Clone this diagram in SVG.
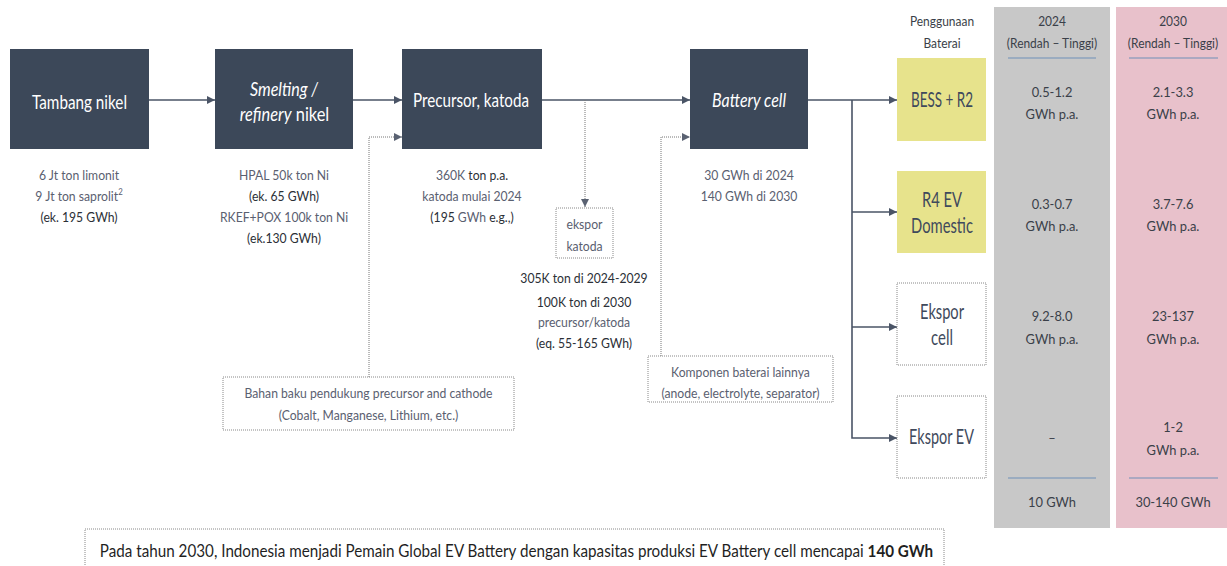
<svg xmlns="http://www.w3.org/2000/svg" width="1227" height="566" viewBox="0 0 1227 566">
<defs>
<marker id="ah" viewBox="0 0 10 10" refX="10" refY="5" markerWidth="8" markerHeight="8" markerUnits="userSpaceOnUse" orient="auto"><path d="M0,0 L10,5 L0,10 z" fill="#4a5466"/></marker>
<marker id="ahd" viewBox="0 0 10 10" refX="10" refY="5" markerWidth="8" markerHeight="8" markerUnits="userSpaceOnUse" orient="auto"><path d="M0,0 L10,5 L0,10 z" fill="#5a6272"/></marker>
</defs>
<style>
text{font-family:Lato,"Noto Sans",sans-serif;text-anchor:middle}
.node{fill:#3c4859}
.nt{fill:#ffffff;font-size:20px}
.it{font-style:italic}
.st{text-anchor:start}
.sub{font-size:14px;fill:#5a6070}
.dk{fill:#2b2f36}
.conn{stroke:#4a5466;stroke-width:1.6;fill:none}
.dot{stroke:#777;stroke-width:1;stroke-dasharray:1 1;fill:none}
.dbox{fill:#fff;stroke:#888;stroke-width:1;stroke-dasharray:1 1}
.yel{fill:#e7e38c}
.ut{font-size:21px;fill:#3f4a5c}
.hd{font-size:13px;fill:#3a3f48}
.val{font-size:14px;fill:#3a3f48}
.bl{stroke:#6f8fb8;stroke-width:1.2}
</style>
<rect x="994" y="7" width="116" height="521" fill="#c8c8c8"/>
<rect x="1116" y="7" width="111" height="521" fill="#e8c1cb"/>
<g id="connectors">
<line class="conn" x1="149" y1="100" x2="215" y2="100" marker-end="url(#ah)"/>
<line class="conn" x1="353" y1="100" x2="402" y2="100" marker-end="url(#ah)"/>
<line class="conn" x1="542" y1="100" x2="690" y2="100" marker-end="url(#ah)"/>
<line class="conn" x1="808" y1="100" x2="897" y2="100" marker-end="url(#ah)"/>
<polyline class="conn" points="852,100 852,438 897,438" marker-end="url(#ah)"/>
<line class="conn" x1="852" y1="212" x2="897" y2="212" marker-end="url(#ah)"/>
<line class="conn" x1="852" y1="327" x2="897" y2="327" marker-end="url(#ah)"/>
<line class="dot" x1="585" y1="100" x2="585" y2="207" marker-end="url(#ahd)"/>
<polyline class="dot" points="369,377 369,137 402,137" marker-end="url(#ahd)"/>
<polyline class="dot" points="661,356 661,137 690,137" marker-end="url(#ahd)"/>
</g>
<g id="tambang">
<rect class="node" x="10" y="49" width="139" height="100"/>
<text class="nt" x="79.5" y="109" textLength="95" lengthAdjust="spacingAndGlyphs">Tambang nikel</text>
<g transform="translate(79,0) scale(0.87,1)">
<text class="sub" x="0" y="180">6 Jt ton limonit</text>
<text class="sub" x="0" y="201">9 Jt ton saprolit<tspan font-size="9" dy="-6">2</tspan></text>
<text class="sub dk" x="0" y="222">(ek. 195 GWh)</text>
</g>
</g>
<g id="smelting">
<rect class="node" x="215" y="49" width="138" height="100"/>
<text class="nt it" x="284" y="96" textLength="68" lengthAdjust="spacingAndGlyphs">Smelting /</text>
<g transform="translate(284.5,0) scale(0.82,1)">
<text class="nt" x="0" y="121" font-size="19"><tspan class="it">refinery</tspan> nikel</text>
</g>
<g transform="translate(284,0) scale(0.87,1)">
<text class="sub" x="0" y="180">HPAL 50k ton Ni</text>
<text class="sub dk" x="0" y="201">(ek. 65 GWh)</text>
<text class="sub" x="0" y="222">RKEF+POX 100k ton Ni</text>
<text class="sub dk" x="0" y="243">(ek.130 GWh)</text>
</g>
</g>
<g id="precursor">
<rect class="node" x="402" y="49" width="140" height="100"/>
<text class="nt" x="471" y="107" textLength="116" lengthAdjust="spacingAndGlyphs">Precursor, katoda</text>
<g transform="translate(472,0) scale(0.87,1)">
<text class="sub" x="0" y="180">360K <tspan class="dk">ton p.a.</tspan></text>
<text class="sub" x="0" y="201">katoda mulai 2024</text>
<text class="sub dk" x="0" y="222">(195 <tspan fill="#5a6070">GWh</tspan> e.g.,)</text>
</g>
</g>
<g id="battery">
<rect class="node" x="690" y="49" width="118" height="100"/>
<text class="nt it" x="749" y="107" textLength="74" lengthAdjust="spacingAndGlyphs">Battery cell</text>
<g transform="translate(749,0) scale(0.87,1)">
<text class="sub" x="0" y="180">30 GWh di 2024</text>
<text class="sub" x="0" y="201">140 GWh di 2030</text>
</g>
</g>
<g id="ekspor-katoda">
<rect class="dbox" x="556" y="208" width="57" height="50"/>
<g transform="translate(584.5,0) scale(0.87,1)">
<text class="sub" x="0" y="229">ekspor</text>
<text class="sub" x="0" y="251">katoda</text>
</g>
<g transform="translate(584,0) scale(0.87,1)">
<text class="sub dk" x="0" y="283">305K ton di 2024-2029</text>
<text class="sub dk" x="0" y="307">100K ton di 2030</text>
<text class="sub" x="0" y="327">precursor/katoda</text>
<text class="sub dk" x="0" y="348">(eq. 55-165 GWh)</text>
</g>
</g>
<g id="bahan-baku">
<rect class="dbox" x="223" y="377" width="291" height="53"/>
<g transform="translate(368.5,0) scale(0.87,1)">
<text class="sub" x="0" y="398">Bahan baku pendukung precursor and cathode</text>
<text class="sub" x="0" y="420">(Cobalt, Manganese, Lithium, etc.)</text>
</g>
</g>
<g id="komponen">
<rect class="dbox" x="648" y="356" width="185" height="46"/>
<g transform="translate(740.5,0) scale(0.87,1)">
<text class="sub" x="0" y="377">Komponen baterai lainnya</text>
<text class="sub" x="0" y="398">(anode, electrolyte, separator)</text>
</g>
</g>
<g id="bess">
<rect class="yel" x="897" y="58" width="89" height="83"/>
<text class="ut" x="942" y="107" textLength="62" lengthAdjust="spacingAndGlyphs">BESS + R2</text>
</g>
<g id="r4ev">
<rect class="yel" x="897" y="171" width="89" height="82"/>
<text class="ut" x="942" y="207" textLength="40" lengthAdjust="spacingAndGlyphs">R4 EV</text>
<text class="ut" x="942" y="233" textLength="62" lengthAdjust="spacingAndGlyphs">Domestic</text>
</g>
<g id="ekspor-cell">
<rect class="dbox" x="897" y="283" width="89" height="82"/>
<text class="ut" x="942" y="319" textLength="44" lengthAdjust="spacingAndGlyphs">Ekspor</text>
<text class="ut" x="942" y="345" textLength="22" lengthAdjust="spacingAndGlyphs">cell</text>
</g>
<g id="ekspor-ev">
<rect class="dbox" x="897" y="396" width="89" height="82"/>
<text class="ut" x="941.5" y="444" textLength="65" lengthAdjust="spacingAndGlyphs">Ekspor EV</text>
</g>
<g id="headers">
<g transform="translate(942,0) scale(0.92,1)">
<text class="hd" x="0" y="26">Penggunaan</text>
<text class="hd" x="0" y="48">Baterai</text>
</g>
<g transform="translate(1052,0) scale(0.92,1)">
<text class="hd" x="0" y="26">2024</text>
<text class="hd" x="0" y="48">(Rendah – Tinggi)</text>
</g>
<line class="bl" x1="1008" y1="58" x2="1096" y2="58"/>
<g transform="translate(1173,0) scale(0.92,1)">
<text class="hd" x="0" y="26">2030</text>
<text class="hd" x="0" y="48">(Rendah – Tinggi)</text>
</g>
<line class="bl" x1="1129" y1="58" x2="1218" y2="58"/>
</g>
<g id="col2024">
<g transform="translate(1052,0) scale(0.92,1)">
<text class="val" x="0" y="97">0.5-1.2</text>
<text class="val" x="0" y="119">GWh p.a.</text>
<text class="val" x="0" y="209">0.3-0.7</text>
<text class="val" x="0" y="231">GWh p.a.</text>
<text class="val" x="0" y="321">9.2-8.0</text>
<text class="val" x="0" y="344">GWh p.a.</text>
<text class="val" x="0" y="443">–</text>
<text class="val" x="0" y="507">10 GWh</text>
</g>
<line class="bl" x1="1008" y1="478" x2="1096" y2="478"/>
</g>
<g id="col2030">
<g transform="translate(1173,0) scale(0.92,1)">
<text class="val" x="0" y="97">2.1-3.3</text>
<text class="val" x="0" y="119">GWh p.a.</text>
<text class="val" x="0" y="209">3.7-7.6</text>
<text class="val" x="0" y="231">GWh p.a.</text>
<text class="val" x="0" y="321">23-137</text>
<text class="val" x="0" y="344">GWh p.a.</text>
<text class="val" x="0" y="432">1-2</text>
<text class="val" x="0" y="455">GWh p.a.</text>
<text class="val" x="0" y="507">30-140 GWh</text>
</g>
<line class="bl" x1="1129" y1="478" x2="1218" y2="478"/>
</g>
<g id="summary">
<rect class="dbox" x="85" y="529" width="859" height="45"/>
<g transform="translate(516.5,0) scale(0.922,1)">
<text x="0" y="557" font-size="16.5" fill="#1f1f1f">Pada tahun 2030, Indonesia menjadi Pemain Global EV Battery dengan kapasitas produksi EV Battery cell mencapai <tspan font-weight="bold">140 GWh</tspan></text>
</g>
</g>
</svg>
